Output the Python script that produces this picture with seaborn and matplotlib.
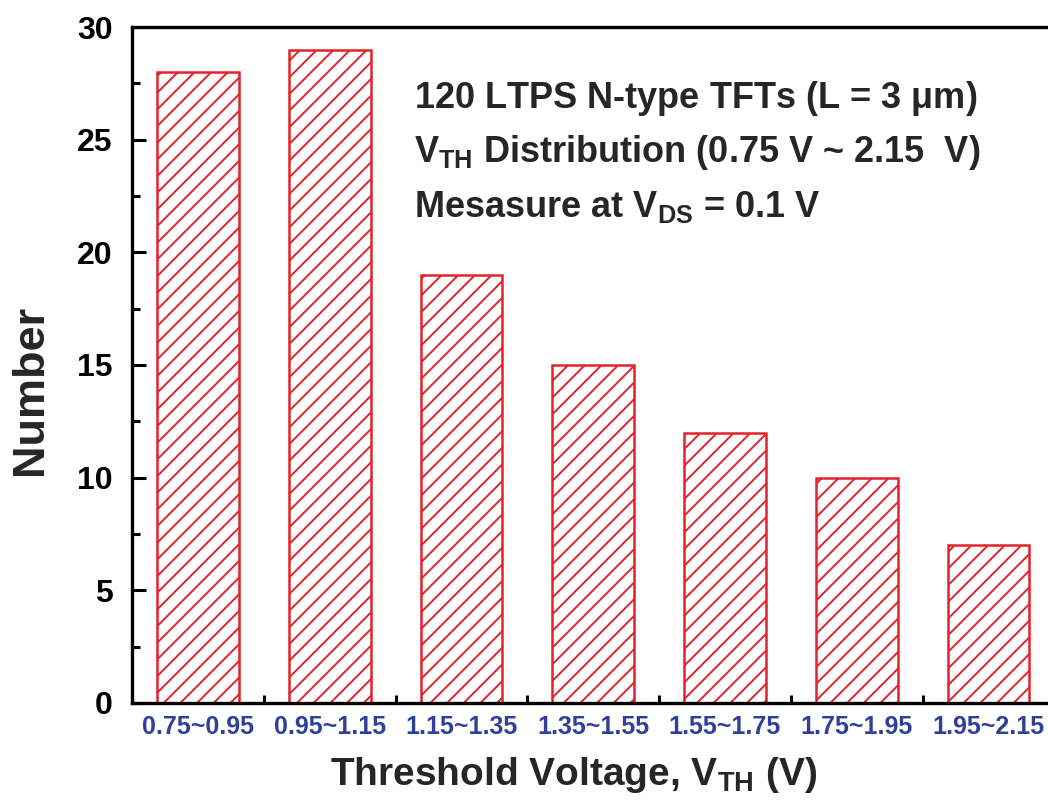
import matplotlib
matplotlib.use("Agg")
import matplotlib.pyplot as plt
from matplotlib.ticker import MultipleLocator, FixedLocator
import seaborn as sns
import pandas as pd

# Threshold-voltage bins and device counts per bin
bins = ["0.75~0.95", "0.95~1.15", "1.15~1.35", "1.35~1.55",
        "1.55~1.75", "1.75~1.95", "1.95~2.15"]
counts = [28, 29, 19, 15, 12, 10, 7]

note_lines = [
    r"120 LTPS N-type TFTs (L = 3 $\mathregular{\mu}$m)",
    r"V$_{\mathbf{TH}}$ Distribution (0.75 V ~ 2.15  V)",
    r"Mesasure at V$_{\mathbf{DS}}$ = 0.1 V",
]

RED = "#e3232b"
BLUE = "#2e3f9c"

sns.set_style("ticks")
plt.rcParams["font.family"] = ["Liberation Sans", "DejaVu Sans"]
plt.rcParams["font.weight"] = "bold"
plt.rcParams["mathtext.fontset"] = "custom"
plt.rcParams["mathtext.rm"] = "Liberation Sans:bold"
plt.rcParams["mathtext.bf"] = "Liberation Sans:bold"
plt.rcParams["mathtext.it"] = "Liberation Sans:bold"
plt.rcParams["hatch.color"] = RED
plt.rcParams["hatch.linewidth"] = 1.4
plt.rcParams["xtick.direction"] = "in"
plt.rcParams["ytick.direction"] = "in"

df = pd.DataFrame({"bin": bins, "count": counts})

fig = plt.figure(figsize=(10.48, 8.07), dpi=100)
ax = fig.add_axes([0.126, 0.129, 0.880, 0.8375])

sns.barplot(data=df, x="bin", y="count", ax=ax, color="white", saturation=1,
            edgecolor=RED, linewidth=1.8, hatch="//", width=0.62)

ax.set_xlim(-0.5, len(bins) - 0.5)
ax.set_ylim(0, 30)

ax.yaxis.set_major_locator(MultipleLocator(5))
ax.yaxis.set_minor_locator(MultipleLocator(2.5))
ax.xaxis.set_minor_locator(FixedLocator([i + 0.5 for i in range(-1, len(bins))]))

ax.tick_params(axis="y", which="major", direction="in", length=10, width=2.2,
               color="black", labelsize=23, pad=14, labelcolor="black")
ax.tick_params(axis="y", which="minor", direction="in", length=5.5, width=2.2,
               color="black")
ax.tick_params(axis="x", which="major", direction="in", length=10, width=2.2,
               color="black", labelsize=18, pad=9, labelcolor=BLUE)
ax.tick_params(axis="x", which="minor", direction="in", length=5.5, width=2.2,
               color="black")

for side in ["left", "bottom", "top", "right"]:
    ax.spines[side].set_visible(True)
    ax.spines[side].set_linewidth(2.4)
    ax.spines[side].set_color("black")

ax.set_xlabel(r"Threshold Voltage, V$_{\mathbf{TH}}$ (V)", fontsize=28,
              fontweight="bold")
ax.xaxis.set_label_coords(0.479, -0.077)
ax.set_ylabel("Number", fontsize=32.5, fontweight="bold")
ax.yaxis.set_label_coords(-0.088, 0.463)

for i, line in enumerate(note_lines):
    ax.text(0.306, 0.895 - i * 0.081, line, transform=ax.transAxes,
            fontsize=26, fontweight="bold", ha="left", va="center")

fig.savefig("out.png", dpi=100)
